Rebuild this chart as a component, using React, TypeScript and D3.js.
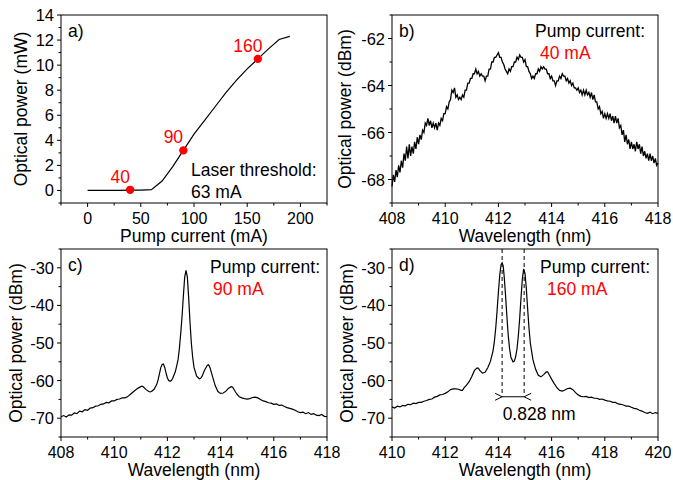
import React from 'react';
import * as d3 from 'd3';

const FONT = '"Liberation Sans", Arial, Helvetica, sans-serif';
const RED = '#ff0000';

// a) light-current curve
const currentA = [0, 10, 20, 30, 40, 50, 60, 70, 80, 90, 100, 110, 120, 130, 140, 150, 160, 170, 180, 190];
const powerA = [0, 0, 0.01, 0.01, 0.02, 0.03, 0.06, 0.75, 1.9, 3.2, 4.5, 5.6, 6.7, 7.8, 8.8, 9.7, 10.5, 11.3, 12.05, 12.3];
const markCurrents = [40, 90, 160];
const markPowers = [0.05, 3.2, 10.5];
const markLabels = ['40', '90', '160'];

// b) spectrum at 40 mA, sampled every 0.05 nm from 408 nm
const startB = 408;
const stepB = 0.05;
const powerB = [
  -68.3, -67.8, -68.1, -67.6, -67.9, -67.4, -67.7, -67.2, -67.5, -66.9, -67.2, -66.6, -67.1, -66.5, -67.0, -66.6, -66.9, -66.4, -66.7, -66.2,
  -66.5, -66.1, -66.3, -65.9, -66.0, -65.6, -65.7, -65.4, -65.7, -65.5, -65.8, -65.6, -65.8, -65.6, -65.9, -65.6, -65.7, -65.4, -65.5, -65.2,
  -65.2, -64.9, -65.0, -64.7, -64.6, -64.2, -64.3, -64.1, -64.5, -64.4, -64.6, -64.5, -64.6, -64.4, -64.5, -64.2, -64.2, -63.9, -63.9, -63.7,
  -63.7, -63.5, -63.5, -63.3, -63.5, -63.4, -63.6, -63.5, -63.6, -63.6, -63.8, -63.6, -63.6, -63.3, -63.3, -63.0, -63.0, -62.8, -62.8, -62.7,
  -62.6, -62.8, -62.8, -63.0, -63.1, -63.3, -63.4, -63.5, -63.3, -63.4, -63.2, -63.2, -63.0, -63.0, -62.8, -62.9, -62.7, -62.8, -62.8, -63.0,
  -62.9, -63.2, -63.2, -63.4, -63.5, -63.7, -63.6, -63.7, -63.5, -63.5, -63.3, -63.4, -63.2, -63.3, -63.2, -63.3, -63.3, -63.5, -63.5, -63.7,
  -63.6, -63.8, -63.8, -64.0, -63.8, -63.8, -63.6, -63.7, -63.5, -63.6, -63.6, -63.8, -63.7, -63.9, -63.8, -64.0, -63.9, -64.1, -64.1, -64.2,
  -64.1, -64.3, -64.2, -64.4, -64.2, -64.4, -64.2, -64.4, -64.3, -64.5, -64.3, -64.6, -64.4, -64.7, -64.7, -65.0, -64.9, -65.2, -65.1, -65.4,
  -65.2, -65.4, -65.2, -65.4, -65.2, -65.5, -65.3, -65.6, -65.3, -65.6, -65.4, -65.8, -65.7, -66.1, -65.9, -66.4, -66.1, -66.5, -66.3, -66.7,
  -66.4, -66.7, -66.5, -66.8, -66.4, -66.7, -66.5, -66.9, -66.6, -67.0, -66.8, -67.1, -66.9, -67.2, -66.9, -67.2, -67.0, -67.3, -67.1, -67.4,
  -67.3,
];

// c) spectrum at 90 mA
const wlC = [
  408.0, 408.1, 408.2, 408.3, 408.4, 408.5, 408.6, 408.7, 408.8, 408.9, 409.0, 409.1, 409.2, 409.3, 409.4, 409.5, 409.6, 409.7, 409.8, 409.9,
  410.0, 410.1, 410.2, 410.3, 410.4, 410.5, 410.55, 410.6, 410.7, 410.8, 410.9, 411.0, 411.05, 411.1, 411.2, 411.3, 411.35, 411.4, 411.5, 411.6,
  411.65, 411.7, 411.75, 411.8, 411.85, 411.9, 411.95, 412.0, 412.05, 412.1, 412.15, 412.2, 412.3, 412.4, 412.45, 412.5, 412.55, 412.6, 412.65, 412.7,
  412.75, 412.8, 412.85, 412.9, 412.95, 413.0, 413.1, 413.2, 413.25, 413.3, 413.4, 413.5, 413.55, 413.6, 413.7, 413.8, 413.9, 414.0, 414.1, 414.2,
  414.3, 414.4, 414.45, 414.5, 414.6, 414.7, 414.8, 414.9, 415.0, 415.1, 415.2, 415.3, 415.4, 415.5, 415.6, 415.7, 415.8, 415.9, 416.0, 416.1,
  416.2, 416.3, 416.4, 416.5, 416.6, 416.7, 416.8, 416.9, 417.0, 417.1, 417.2, 417.3, 417.4, 417.5, 417.6, 417.7, 417.8, 417.9, 418.0,
];
const powerC = [
  -69.6, -69.3, -69.7, -69.1, -69.2, -68.6, -68.8, -68.1, -68.3, -67.7, -67.9, -67.3, -67.2, -66.8, -66.7, -66.3, -66.2, -65.8, -65.9, -65.4,
  -65.4, -65.0, -64.9, -64.6, -64.6, -64.3, -64.0, -63.7, -63.1, -62.5, -62.0, -61.6, -61.5, -61.7, -62.4, -62.9, -63.0, -62.9, -62.3, -61.0,
  -59.8, -58.2, -56.6, -55.7, -55.6, -56.5, -58.0, -59.3, -60.0, -60.2, -60.0, -59.4, -57.6, -54.5, -51.5, -47.5, -43.0, -37.5, -32.5, -30.7,
  -32.5, -38.0, -44.5, -50.0, -53.8, -56.5, -58.8, -59.5, -59.4, -58.9, -57.2, -55.9, -55.8, -56.5, -59.0, -61.4, -62.9, -63.4, -63.3, -62.8,
  -62.0, -61.6, -61.7, -62.3, -63.5, -64.3, -64.6, -64.8, -64.9, -64.8, -64.5, -64.4, -64.6, -65.0, -65.4, -65.6, -65.9, -66.0, -66.3, -66.2,
  -66.6, -66.5, -66.9, -67.2, -67.4, -67.6, -67.9, -68.3, -68.5, -68.4, -68.8, -68.5, -69.0, -68.8, -69.2, -69.3, -69.0, -69.5, -69.6,
];

// d) spectrum at 160 mA
const wlD = [
  410.0, 410.1, 410.2, 410.3, 410.4, 410.5, 410.6, 410.7, 410.8, 410.9, 411.0, 411.1, 411.2, 411.3, 411.4, 411.5, 411.6, 411.7, 411.8, 411.9,
  412.0, 412.1, 412.2, 412.3, 412.4, 412.5, 412.6, 412.65, 412.7, 412.8, 412.9, 413.0, 413.1, 413.2, 413.25, 413.3, 413.4, 413.5, 413.6, 413.7,
  413.8, 413.85, 413.9, 413.95, 414.0, 414.05, 414.1, 414.14, 414.18, 414.22, 414.27, 414.32, 414.37, 414.42, 414.47, 414.55, 414.6, 414.65, 414.7, 414.75,
  414.8, 414.85, 414.9, 414.95, 415.0, 415.05, 415.1, 415.15, 415.2, 415.3, 415.4, 415.5, 415.6, 415.7, 415.8, 415.85, 415.9, 416.0, 416.1, 416.2,
  416.3, 416.4, 416.5, 416.6, 416.7, 416.8, 416.9, 417.0, 417.1, 417.2, 417.3, 417.4, 417.5, 417.6, 417.7, 417.8, 417.9, 418.0, 418.1, 418.2,
  418.3, 418.4, 418.5, 418.6, 418.7, 418.8, 418.9, 419.0, 419.1, 419.2, 419.3, 419.4, 419.5, 419.6, 419.7, 419.8, 419.9, 420.0,
];
const powerD = [
  -67.0, -67.3, -66.8, -67.0, -66.6, -66.7, -66.3, -66.4, -66.0, -66.1, -65.8, -65.8, -65.5, -65.3, -65.0, -64.9, -64.4, -64.2, -63.8, -63.7,
  -63.4, -63.0, -62.4, -62.2, -62.2, -62.3, -62.6, -62.6, -62.0, -61.2, -60.3, -58.9, -57.3, -56.6, -56.7, -57.3, -58.0, -57.8, -56.6, -54.9,
  -52.0, -49.5, -46.0, -41.5, -36.5, -32.0, -29.2, -28.7, -29.5, -32.5, -37.5, -43.0, -48.0, -51.5, -53.8, -55.0, -54.8, -53.6, -51.5, -48.0,
  -43.5, -38.0, -33.0, -30.3, -31.5, -35.5, -41.0, -46.0, -50.0, -54.5, -57.0, -58.6, -59.0, -58.4, -57.7, -57.7, -58.3, -59.6, -60.8, -61.9,
  -62.6, -62.8, -62.5, -62.1, -62.0, -62.4, -63.2, -63.8, -64.2, -64.3, -64.2, -64.5, -64.4, -64.7, -64.7, -65.0, -64.9, -65.2, -65.4, -65.5,
  -65.8, -65.8, -66.2, -66.3, -66.5, -66.8, -66.8, -67.1, -67.4, -67.5, -67.9, -68.1, -68.5, -68.7, -68.4, -68.8, -68.5, -68.7,
];
const peaksD = [414.14, 414.968];
const markerLevelD = -64.3;
const spacingLabel = '0.828 nm';

// tick values
const xTicksA = [0, 50, 100, 150, 200];
const yTicksA = [0, 2, 4, 6, 8, 10, 12, 14];
const xTicksB = [408, 410, 412, 414, 416, 418];
const yTicksB = [-62, -64, -66, -68];
const yTicksCD = [-30, -40, -50, -60, -70];
const xTicksD = [410, 412, 414, 416, 418, 420];

type Box = { left: number; top: number; width: number; height: number };

// half-way minor ticks, including the ones outside the labelled range
const minors = (ticks: number[], domain: number[]) => {
  const sorted = [...ticks].sort((a, b) => a - b);
  const step = Math.abs(sorted[1] - sorted[0]);
  const [lo, hi] = d3.extent(domain) as [number, number];
  const out: number[] = [];
  for (let v = sorted[0] - step / 2; v >= lo - 1e-9; v -= step) out.push(v);
  for (let v = sorted[0] + step / 2; v <= hi + 1e-9; v += step) out.push(v);
  return out;
};

const Frame = ({ box, x, y, xTicks, yTicks, xLabel, yLabel, yLabelDx, tag }: any) => {
  const bottom = box.top + box.height;
  const right = box.left + box.width;
  const xMin = minors(xTicks, x.domain());
  const yMin = minors(yTicks, y.domain());
  return (
    <g>
      <rect x={box.left} y={box.top} width={box.width} height={box.height} fill="none" stroke="#000" strokeWidth={1} />
      {xTicks.map((t: number) => (
        <g key={'xt' + t}>
          <line x1={x(t)} x2={x(t)} y1={bottom} y2={bottom + 4} stroke="#000" />
          <text x={x(t)} y={bottom + 21} textAnchor="middle" fontSize={16}>{t}</text>
        </g>
      ))}
      {xMin.map((t: number) => (
        <line key={'xm' + t} x1={x(t)} x2={x(t)} y1={bottom} y2={bottom + 2.5} stroke="#000" />
      ))}
      {yTicks.map((t: number) => (
        <g key={'yt' + t}>
          <line x1={box.left - 4} x2={box.left} y1={y(t)} y2={y(t)} stroke="#000" />
          <text x={box.left - 7} y={y(t) + 6} textAnchor="end" fontSize={16.5}>{t}</text>
        </g>
      ))}
      {yMin.map((t: number) => (
        <line key={'ym' + t} x1={box.left - 2.5} x2={box.left} y1={y(t)} y2={y(t)} stroke="#000" />
      ))}
      <text x={(box.left + right) / 2} y={bottom + 38.5} textAnchor="middle" fontSize={17.5}>{xLabel}</text>
      <text
        transform={`translate(${box.left + yLabelDx},${box.top + box.height / 2}) rotate(-90)`}
        textAnchor="middle"
        fontSize={17.5}
      >
        {yLabel}
      </text>
      <text x={box.left + 7} y={box.top + 22} fontSize={17.5}>{tag}</text>
    </g>
  );
};

const App = () => {
  const boxA: Box = { left: 61, top: 15, width: 266, height: 188 };
  const boxB: Box = { left: 392, top: 15, width: 266, height: 188 };
  const boxC: Box = { left: 61, top: 249, width: 266, height: 188 };
  const boxD: Box = { left: 392, top: 249, width: 266, height: 188 };

  const xA = d3.scaleLinear().domain([-25, 225]).range([boxA.left, boxA.left + boxA.width]);
  const yA = d3.scaleLinear().domain([-1, 14]).range([boxA.top + boxA.height, boxA.top]);
  const xB = d3.scaleLinear().domain([408, 418]).range([boxB.left, boxB.left + boxB.width]);
  const yB = d3.scaleLinear().domain([-69, -61]).range([boxB.top + boxB.height, boxB.top]);
  const xC = d3.scaleLinear().domain([408, 418]).range([boxC.left, boxC.left + boxC.width]);
  const yC = d3.scaleLinear().domain([-75, -25]).range([boxC.top + boxC.height, boxC.top]);
  const xD = d3.scaleLinear().domain([410, 420]).range([boxD.left, boxD.left + boxD.width]);
  const yD = d3.scaleLinear().domain([-75, -25]).range([boxD.top + boxD.height, boxD.top]);

  const lineA = d3.line<number>().x((_, i) => xA(currentA[i])).y(d => yA(d));
  const lineB = d3.line<number>().x((_, i) => xB(startB + i * stepB)).y(d => yB(d));
  const lineC = d3.line<number>().x((_, i) => xC(wlC[i])).y(d => yC(d));
  const lineD = d3.line<number>().x((_, i) => xD(wlD[i])).y(d => yD(d));

  const yMark = yD(markerLevelD);
  const p1 = xD(peaksD[0]);
  const p2 = xD(peaksD[1]);

  return (
    <svg width={673} height={480} style={{ position: 'absolute', left: 0, top: 0, background: '#fff' }} fontFamily={FONT}>
      {/* a) */}
      <Frame box={boxA} x={xA} y={yA} xTicks={xTicksA} yTicks={yTicksA} xLabel="Pump current (mA)" yLabel="Optical power (mW)" yLabelDx={-34} tag="a)" />
      <path d={lineA(powerA) || ''} fill="none" stroke="#000" strokeWidth={1.2} />
      {markCurrents.map((c, i) => (
        <g key={c}>
          <circle cx={xA(c)} cy={yA(markPowers[i])} r={4.2} fill={RED} />
          <text x={xA(c) - 10} y={yA(markPowers[i]) - 7} textAnchor="middle" fontSize={17.5} fill={RED}>{markLabels[i]}</text>
        </g>
      ))}
      <text x={191} y={176} fontSize={17.5}>Laser threshold:</text>
      <text x={191} y={198} fontSize={17.5}>63 mA</text>

      {/* b) */}
      <Frame box={boxB} x={xB} y={yB} xTicks={xTicksB} yTicks={yTicksB} xLabel="Wavelength (nm)" yLabel="Optical power (dBm)" yLabelDx={-41} tag="b)" />
      <path d={lineB(powerB) || ''} fill="none" stroke="#000" strokeWidth={1.3} />
      <text x={645} y={37} textAnchor="end" fontSize={17.5}>Pump current:</text>
      <text x={540} y={59} fontSize={17.5} fill={RED}>40 mA</text>

      {/* c) */}
      <Frame box={boxC} x={xC} y={yC} xTicks={xTicksB} yTicks={yTicksCD} xLabel="Wavelength (nm)" yLabel="Optical power (dBm)" yLabelDx={-39} tag="c)" />
      <path d={lineC(powerC) || ''} fill="none" stroke="#000" strokeWidth={1.2} />
      <text x={320} y={273} textAnchor="end" fontSize={17.5}>Pump current:</text>
      <text x={213} y={295} fontSize={17.5} fill={RED}>90 mA</text>

      {/* d) */}
      <Frame box={boxD} x={xD} y={yD} xTicks={xTicksD} yTicks={yTicksCD} xLabel="Wavelength (nm)" yLabel="Optical power (dBm)" yLabelDx={-39} tag="d)" />
      <path d={lineD(powerD) || ''} fill="none" stroke="#000" strokeWidth={1.2} />
      {peaksD.map(p => (
        <line key={p} x1={xD(p)} x2={xD(p)} y1={boxD.top} y2={yMark} stroke="#000" strokeDasharray="4,3" />
      ))}
      <line x1={p1} x2={p2} y1={yMark} y2={yMark} stroke="#000" />
      <path d={`M${p1 - 7},${yMark - 3.5}L${p1},${yMark}L${p1 - 7},${yMark + 3.5}`} fill="none" stroke="#000" />
      <path d={`M${p2 + 7},${yMark - 3.5}L${p2},${yMark}L${p2 + 7},${yMark + 3.5}`} fill="none" stroke="#000" />
      <text x={(p1 + p2) / 2 + 26} y={420} textAnchor="middle" fontSize={17.5}>{spacingLabel}</text>
      <text x={650} y={273} textAnchor="end" fontSize={17.5}>Pump current:</text>
      <text x={547} y={295} fontSize={17.5} fill={RED}>160 mA</text>
    </svg>
  );
};

export default App;
